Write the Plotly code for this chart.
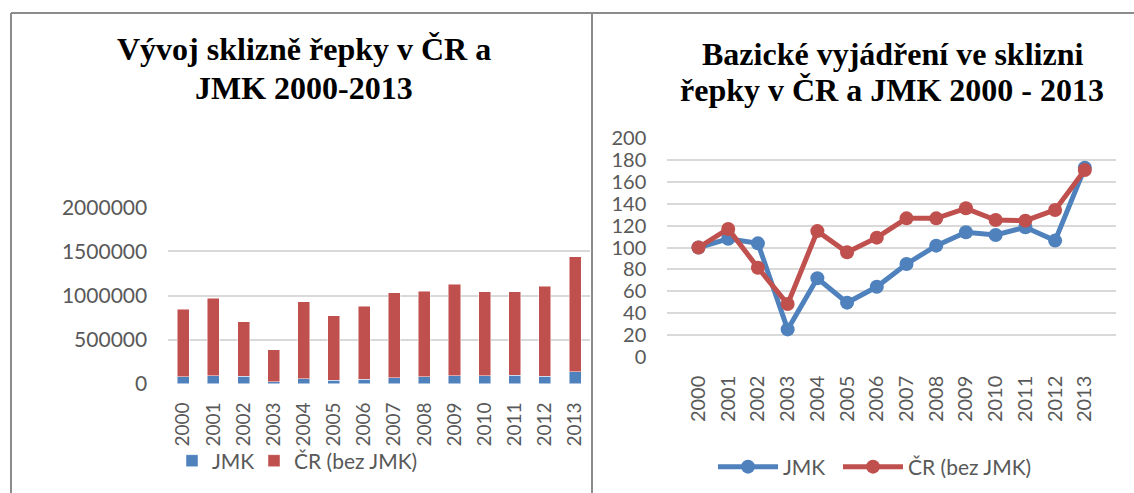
import plotly.graph_objects as go

years = ["2000", "2001", "2002", "2003", "2004", "2005", "2006",
         "2007", "2008", "2009", "2010", "2011", "2012", "2013"]

# Left chart: harvest (t)
jmk_harvest = [79500, 88000, 82500, 20000, 57000, 39500, 51000,
               67500, 81000, 90500, 88500, 94000, 84500, 137000]
cr_harvest = [763500, 883000, 622500, 365000, 875000, 728500, 827000,
              961500, 965000, 1034500, 951500, 951000, 1019500, 1303000]

# Right chart: base index (2000 = 100)
jmk_index = [100, 108, 103.8, 25, 71.8, 49.5, 64, 84.9, 101.7, 113.9, 111.5, 118.5, 106.3, 173]
cr_index = [100, 117, 81.5, 48.2, 115, 95.6, 109, 126.7, 126.7, 135.9, 125.2, 124.6, 134.4, 171]

BLUE = "#4F81BD"
RED = "#C0504D"
TXT = "#595959"
GRID = "#D9D9D9"
W, H = 1134, 493


def px(x):
    return x / W


def py(y):
    return 1 - y / H


fig = go.Figure()

fig.add_trace(go.Bar(x=years, y=jmk_harvest, name="JMK", marker_color=BLUE,
                     marker_line=dict(color="rgba(255,255,255,0.6)", width=0.8),
                     xaxis="x", yaxis="y", legend="legend"))
fig.add_trace(go.Bar(x=years, y=cr_harvest, name="ČR (bez JMK)", marker_color=RED,
                     marker_line=dict(color="rgba(255,255,255,0.6)", width=0.8),
                     xaxis="x", yaxis="y", legend="legend3"))

fig.add_trace(go.Scatter(x=years, y=jmk_index, name="JMK", mode="lines+markers",
                         line=dict(color=BLUE, width=5), marker=dict(size=14, color=BLUE),
                         xaxis="x2", yaxis="y2", legend="legend2"))
fig.add_trace(go.Scatter(x=years, y=cr_index, name="ČR (bez JMK)", mode="lines+markers",
                         line=dict(color=RED, width=5), marker=dict(size=14, color=RED),
                         xaxis="x2", yaxis="y2", legend="legend4"))

tickfont = dict(family="Lato", size=21, color=TXT)
legfont = dict(family="Lato", size=21, color=TXT)


def leg(x, y, iw=30):
    return dict(orientation="h", x=px(x), xanchor="left", y=py(y), yanchor="middle",
                font=legfont, bgcolor="rgba(0,0,0,0)", itemwidth=iw, borderwidth=0)


fig.update_layout(
    template="none",
    width=W, height=H, autosize=False,
    margin=dict(l=0, r=0, t=0, b=0, pad=0),
    paper_bgcolor="white", plot_bgcolor="white",
    barmode="stack", bargap=0.6,
    font=dict(family="Lato", color=TXT),
    hovermode=False,
    xaxis=dict(domain=[px(168.2), px(590.1)], type="category", tickangle=-90,
               tickfont=dict(family="Lato", size=19, color=TXT), showgrid=False,
               showline=False, ticks="", ticklabelstandoff=14, automargin=False),
    yaxis=dict(domain=[py(383.7), py(207.3)], range=[0, 2000000], dtick=500000,
               tickformat="d", tickfont=tickfont, showgrid=True, gridcolor=GRID,
               gridwidth=2, zeroline=False, showline=False, ticks="",
               ticklabelstandoff=20, anchor="x", automargin=False),
    xaxis2=dict(domain=[px(667.3), px(1116)], type="category", tickangle=-90,
                tickfont=dict(family="Lato", size=20, color=TXT), showgrid=False,
                showline=False, ticks="", ticklabelstandoff=14, anchor="y2",
                automargin=False),
    yaxis2=dict(domain=[py(356.7), py(138.3)], range=[0, 200], dtick=20,
                tickfont=dict(family="Lato", size=20, color=TXT), showgrid=True,
                gridcolor=GRID, gridwidth=2, zeroline=False, showline=False, ticks="",
                ticklabelstandoff=20, anchor="x2", automargin=False),
    legend=leg(172, 461),
    legend3=leg(254, 461),
    legend2=leg(713, 467, 60),
    legend4=leg(838, 467, 60),
    showlegend=True,
)

title_font = dict(family="Liberation Serif", size=32, color="black")
titles = [
    ("<b>Vývoj sklizně řepky v ČR a</b>", 304, 62),
    ("<b>JMK 2000-2013</b>", 304, 101),
    ("<b>Bazické vyjádření ve sklizni</b>", 892, 67),
    ("<b>řepky v ČR a JMK 2000 - 2013</b>", 892, 103),
]
for text, cx, base in titles:
    fig.add_annotation(text=text, x=px(cx), y=py(base + 7), xref="paper", yref="paper",
                       xanchor="center", yanchor="bottom", showarrow=False, font=title_font)

border = dict(color="#8C8C8C", width=2)
fig.add_shape(type="line", xref="paper", yref="paper", x0=px(11), x1=1, y0=py(13), y1=py(13), line=border)
fig.add_shape(type="line", xref="paper", yref="paper", x0=px(11), x1=px(11), y0=py(13), y1=0, line=border)
fig.add_shape(type="line", xref="paper", yref="paper", x0=px(592), x1=px(592), y0=py(13), y1=0, line=border)

fig.write_html("out.html", config={"responsive": False, "displayModeBar": False},
               post_script="document.body.style.margin='0px';document.body.style.overflow='hidden';")
